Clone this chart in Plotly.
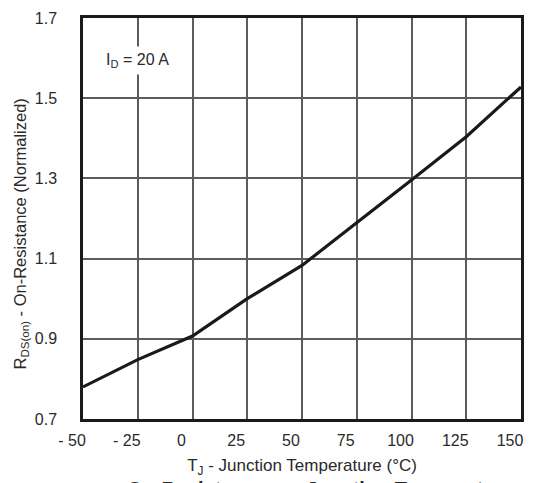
import plotly.graph_objects as go

# Data
temperature_c = [-50, -25, 0, 25, 50, 75, 100, 125, 150]
rds_on_norm = [0.78, 0.848, 0.907, 1.0, 1.083, 1.189, 1.296, 1.404, 1.528]

x_tick_vals = [-50, -25, 0, 25, 50, 75, 100, 125, 150]
x_tick_text = ["- 50", "- 25", "0", "25", "50", "75", "100", "125", "150"]
y_tick_vals = [0.7, 0.9, 1.1, 1.3, 1.5, 1.7]
y_tick_text = ["0.7", "0.9", "1.1", "1.3", "1.5", "1.7"]

FONT = "Liberation Sans, Arial, sans-serif"
TXT = "#2a2a2a"
GRID = "#5c5c5c"

fig = go.Figure()
fig.add_trace(go.Scatter(
    x=temperature_c, y=rds_on_norm, mode="lines",
    line=dict(color="#1a1a1a", width=3.2),
    hoverinfo="skip", showlegend=False,
))

# The page body adds an 8px margin, so the figure is sized 8px smaller.
fig.update_layout(
    width=532, height=475,
    margin=dict(l=75, r=19, t=10, b=64, autoexpand=False),
    paper_bgcolor="white", plot_bgcolor="white",
    font=dict(family=FONT, size=16, color=TXT),
    showlegend=False,
    xaxis=dict(
        range=[-50, 150], tickvals=x_tick_vals, ticktext=x_tick_text,
        showgrid=True, gridcolor=GRID, gridwidth=1.5, zeroline=False,
        showline=True, mirror=True, linecolor="#1a1a1a", linewidth=2.5,
        ticks="", ticklabelshift=-11, ticklabelstandoff=5, automargin=False,
        tickfont=dict(family=FONT, size=16, color=TXT),
        title=dict(text="T<sub>J</sub> - Junction Temperature (°C)",
                   font=dict(family=FONT, size=17, color=TXT), standoff=12),
    ),
    yaxis=dict(
        range=[0.7, 1.7], tickvals=y_tick_vals, ticktext=y_tick_text,
        showgrid=True, gridcolor=GRID, gridwidth=1.5, zeroline=False,
        showline=True, mirror=True, linecolor="#1a1a1a", linewidth=2.5,
        ticks="", ticklabelstandoff=20, automargin=False,
        tickfont=dict(family=FONT, size=16, color=TXT),
    ),
    annotations=[
        dict(text="R<sub>DS(on)</sub> - On-Resistance (Normalized)",
             xref="paper", yref="paper", x=0, y=0.5, xshift=-63, yshift=-16,
             textangle=-90, showarrow=False, xanchor="center", yanchor="middle",
             font=dict(family=FONT, size=16.5, color=TXT)),
        dict(text="I<sub>D</sub> = 20 A", xref="x", yref="y", x=-42, y=1.595,
             xanchor="left", yanchor="middle", showarrow=False,
             bgcolor="white", borderpad=4,
             font=dict(family=FONT, size=16, color=TXT)),
        dict(text="<b>On-Resistance vs. Junction Temperature</b>",
             xref="paper", yref="paper", x=0, y=-0.143, xshift=42,
             xanchor="left", yanchor="top", showarrow=False,
             font=dict(family=FONT, size=20, color=TXT)),
    ],
)

fig.write_html("out.html")
